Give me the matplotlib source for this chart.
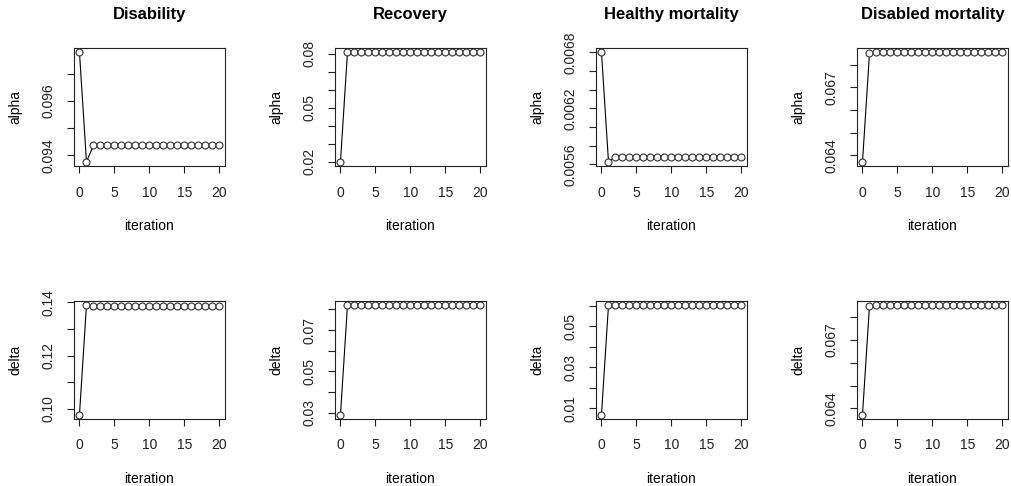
import matplotlib
matplotlib.use("Agg")
import matplotlib.pyplot as plt

plt.rcParams['font.family'] = ['Liberation Sans', 'DejaVu Sans']

iteration = list(range(21))

titles = ["Disability", "Recovery", "Healthy mortality", "Disabled mortality"]

# alpha estimates per iteration
alpha_disability = [0.0978, 0.09376, 0.09436, 0.09436, 0.09436, 0.09436, 0.09436,
                    0.09436, 0.09436, 0.09436, 0.09436, 0.09436, 0.09436, 0.09436,
                    0.09436, 0.09436, 0.09436, 0.09436, 0.09436, 0.09436, 0.09436]
alpha_recovery = [0.0199, 0.0806, 0.0806, 0.0806, 0.0806, 0.0806, 0.0806,
                  0.0806, 0.0806, 0.0806, 0.0806, 0.0806, 0.0806, 0.0806,
                  0.0806, 0.0806, 0.0806, 0.0806, 0.0806, 0.0806, 0.0806]
alpha_healthy = [0.0068, 0.00563, 0.005685, 0.005685, 0.005685, 0.005685, 0.005685,
                 0.005685, 0.005685, 0.005685, 0.005685, 0.005685, 0.005685, 0.005685,
                 0.005685, 0.005685, 0.005685, 0.005685, 0.005685, 0.005685, 0.005685]
alpha_disabled = [0.06372, 0.06849, 0.06853, 0.06853, 0.06853, 0.06853, 0.06853,
                  0.06853, 0.06853, 0.06853, 0.06853, 0.06853, 0.06853, 0.06853,
                  0.06853, 0.06853, 0.06853, 0.06853, 0.06853, 0.06853, 0.06853]

# delta estimates per iteration
delta_disability = [0.0979, 0.1389, 0.1386, 0.1386, 0.1386, 0.1386, 0.1386,
                    0.1386, 0.1386, 0.1386, 0.1386, 0.1386, 0.1386, 0.1386,
                    0.1386, 0.1386, 0.1386, 0.1386, 0.1386, 0.1386, 0.1386]
delta_recovery = [0.0292, 0.0819, 0.0819, 0.0819, 0.0819, 0.0819, 0.0819,
                  0.0819, 0.0819, 0.0819, 0.0819, 0.0819, 0.0819, 0.0819,
                  0.0819, 0.0819, 0.0819, 0.0819, 0.0819, 0.0819, 0.0819]
delta_healthy = [0.0069, 0.0602, 0.0602, 0.0602, 0.0602, 0.0602, 0.0602,
                 0.0602, 0.0602, 0.0602, 0.0602, 0.0602, 0.0602, 0.0602,
                 0.0602, 0.0602, 0.0602, 0.0602, 0.0602, 0.0602, 0.0602]
delta_disabled = [0.06372, 0.06852, 0.06853, 0.06853, 0.06853, 0.06853, 0.06853,
                  0.06853, 0.06853, 0.06853, 0.06853, 0.06853, 0.06853, 0.06853,
                  0.06853, 0.06853, 0.06853, 0.06853, 0.06853, 0.06853, 0.06853]

x_ticks = [0, 5, 10, 15, 20]

# y ticks and the labels R actually printed (others skipped for overlap)
alpha_yticks = [
    [0.094, 0.095, 0.096, 0.097],
    [0.02, 0.03, 0.04, 0.05, 0.06, 0.07, 0.08],
    [0.0056, 0.0058, 0.0060, 0.0062, 0.0064, 0.0066, 0.0068],
    [0.064, 0.065, 0.066, 0.067, 0.068],
]
alpha_ylabels = [
    ["0.094", "", "0.096", ""],
    ["0.02", "", "", "0.05", "", "", "0.08"],
    ["0.0056", "", "", "0.0062", "", "", "0.0068"],
    ["0.064", "", "", "0.067", ""],
]
delta_yticks = [
    [0.10, 0.11, 0.12, 0.13, 0.14],
    [0.03, 0.04, 0.05, 0.06, 0.07, 0.08],
    [0.01, 0.02, 0.03, 0.04, 0.05, 0.06],
    [0.064, 0.065, 0.066, 0.067, 0.068],
]
delta_ylabels = [
    ["0.10", "", "0.12", "", "0.14"],
    ["0.03", "", "0.05", "", "0.07", ""],
    ["0.01", "", "0.03", "", "0.05", ""],
    ["0.064", "", "", "0.067", ""],
]

alpha_series = [alpha_disability, alpha_recovery, alpha_healthy, alpha_disabled]
delta_series = [delta_disability, delta_recovery, delta_healthy, delta_disabled]


def r_style_panel(ax, y, ylab, yticks, ylabels):
    ax.plot(iteration, y, color="black", linewidth=0.8, marker="o",
            markersize=5, markerfacecolor="white", markeredgecolor="#333333",
            markeredgewidth=0.8)
    ax.margins(x=0.04, y=0.04)
    ax.set_xticks(x_ticks)
    ax.set_yticks(yticks, ylabels)
    for lab in ax.get_yticklabels():
        lab.set_rotation(90)
        lab.set_va("center")
    ax.tick_params(direction="out", length=5, width=0.8, labelsize=10,
                   colors="#222222")
    ax.tick_params(axis="x", pad=9)
    ax.tick_params(axis="y", pad=8)
    for sp in ax.spines.values():
        sp.set_linewidth(0.8)
        sp.set_color("#222222")
    ax.set_xlabel("iteration", fontsize=10)
    ax.set_ylabel(ylab, fontsize=10)
    ax.xaxis.set_label_coords(0.5, -0.51)
    ax.xaxis.label.set_va("center")
    ax.yaxis.set_label_coords(-0.39, 0.5)
    ax.yaxis.label.set_va("center")


fig, axes = plt.subplots(nrows=2, ncols=4, figsize=(10.12, 4.86), dpi=100)
fig.subplots_adjust(left=0.073, right=0.996, top=0.901, bottom=0.138,
                    wspace=0.728, hspace=1.144)

for j in range(4):
    r_style_panel(axes[0, j], alpha_series[j], "alpha", alpha_yticks[j], alpha_ylabels[j])
    axes[0, j].set_title(titles[j], fontsize=12, fontweight="bold", pad=21)
    r_style_panel(axes[1, j], delta_series[j], "delta", delta_yticks[j], delta_ylabels[j])

fig.savefig("out.png", dpi=100)
